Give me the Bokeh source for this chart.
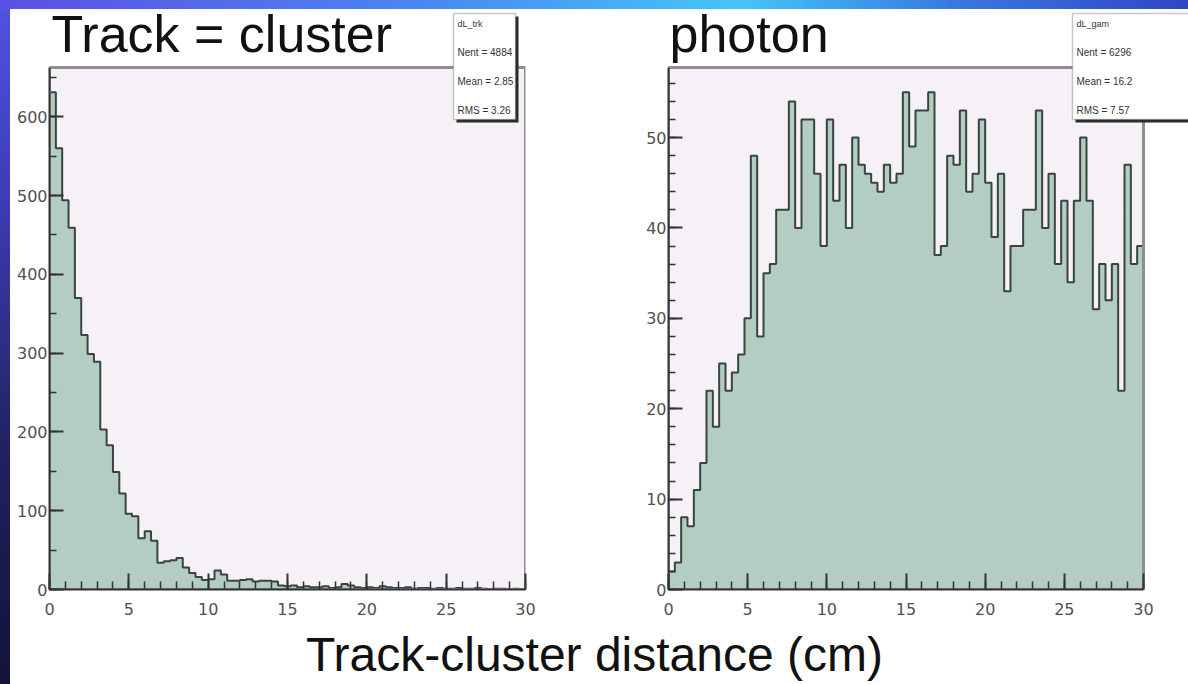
import numpy as np
from bokeh.plotting import figure
from bokeh.layouts import column, row
from bokeh.models import Label, BoxAnnotation, SingleIntervalTicker, Range1d
from bokeh.embed import file_html
from bokeh.resources import INLINE

# ---------------- data ----------------
x_min, x_max, n_bins = 0.0, 30.0, 75

track_counts = [631, 560, 494, 459, 370, 323, 299, 289, 203, 183,
                149, 122, 96, 93, 65, 74, 62, 34, 36, 37,
                40, 28, 21, 16, 12, 13, 24, 19, 11, 11,
                12, 13, 10, 11, 11, 10, 5, 4, 5, 3,
                4, 3, 3, 4, 2, 3, 7, 5, 3, 2,
                3, 2, 4, 3, 2, 2, 3, 1, 2, 2,
                1, 2, 1, 1, 2, 1, 1, 2, 1, 0,
                1, 1, 0, 1, 0]

photon_counts = [2, 3, 8, 7, 11, 14, 22, 18, 25, 22,
                 24, 26, 30, 48, 28, 35, 36, 42, 42, 54,
                 40, 52, 52, 46, 38, 52, 43, 47, 40, 50,
                 47, 46, 45, 44, 47, 45, 46, 55, 49, 53,
                 53, 55, 37, 38, 48, 47, 53, 44, 46, 52,
                 45, 39, 46, 33, 38, 38, 42, 42, 53, 40,
                 46, 36, 43, 34, 43, 50, 43, 31, 36, 32,
                 36, 22, 47, 36, 38]

track_title = "Track = cluster"
photon_title = "photon"
x_label = "Track-cluster distance (cm)"
track_stats = ["dL_trk", "Nent = 4884", "Mean = 2.85", "RMS = 3.26"]
photon_stats = ["dL_gam", "Nent = 6296", "Mean = 16.2", "RMS = 7.57"]

edges = np.linspace(x_min, x_max, n_bins + 1)

FILL = "#b4cdc3"
EDGE = "#38443f"
FRAME_BG = "#f6f1f6"
FRAME_LINE = "#8e8e8e"
TICK_FONT = "DejaVu Sans"
TITLE_FONT = "Liberation Sans"

ROW_H = 622          # canvas height of the histogram row
BOTTOM = 33          # border below the frame (tick labels)
FRAME_H = ROW_H - BOTTOM
TOP_PAD = 67         # empty room above the visible frame (titles, stats)


def make_hist(counts, y_interval, y_minor, width, b_left, b_right,
              vis_w, title, title_x, stats, box_w):
    ymax_vis = 1.05 * max(counts)
    frame_w = width - b_left - b_right
    p = figure(width=width, height=ROW_H, output_backend="svg",
               toolbar_location=None,
               x_range=Range1d(x_min, x_max * frame_w / vis_w),
               y_range=Range1d(0, ymax_vis * FRAME_H / (FRAME_H - TOP_PAD)),
               min_border_left=b_left, min_border_right=b_right,
               min_border_top=0, min_border_bottom=BOTTOM)
    p.border_fill_color = None
    p.background_fill_color = None
    p.outline_line_color = None
    p.xgrid.visible = False
    p.ygrid.visible = False

    # visible histogram frame
    p.quad(left=x_min, right=x_max, bottom=0, top=ymax_vis,
           fill_color=FRAME_BG, line_color=None)
    p.varea_step(x=edges, y1=np.zeros(len(edges)),
                 y2=list(counts) + [counts[-1]], step_mode="after",
                 fill_color=FILL)
    p.step(x=edges, y=list(counts) + [counts[-1]], mode="after",
           line_color=EDGE, line_width=2)
    p.quad(left=x_min, right=x_max, bottom=0, top=ymax_vis,
           fill_color=None, line_color=FRAME_LINE, line_width=3)

    p.xaxis.ticker = SingleIntervalTicker(interval=5, num_minor_ticks=5)
    p.yaxis.ticker = SingleIntervalTicker(interval=y_interval,
                                          num_minor_ticks=y_minor)
    p.xaxis.bounds = (x_min, x_max)
    p.yaxis.bounds = (0, ymax_vis)
    for ax in (p.xaxis, p.yaxis):
        ax.axis_line_color = "#333333"
        ax.axis_line_width = 2
        ax.major_tick_line_color = "#333333"
        ax.minor_tick_line_color = "#333333"
        ax.major_tick_line_width = 2
        ax.minor_tick_line_width = 1.5
        ax.major_tick_out = 0
        ax.minor_tick_out = 0
        ax.major_label_text_font = TICK_FONT
        ax.major_label_text_font_size = "16px"
        ax.major_label_text_color = "#505050"
    p.xaxis.major_tick_in = 16
    p.xaxis.minor_tick_in = 8
    p.xaxis.major_label_standoff = 13
    p.yaxis.major_tick_in = 14
    p.yaxis.minor_tick_in = 7
    p.yaxis.major_label_standoff = 2

    # title (screen units: from frame left / frame bottom)
    p.add_layout(Label(x=title_x, y=556, x_units="screen", y_units="screen",
                       text=title, text_font=TITLE_FONT,
                       text_font_size="52px", text_color="#111111",
                       text_baseline="alphabetic"))
    # stats box with shadow
    p.add_layout(BoxAnnotation(left=407, right=407 + box_w, top=573,
                               bottom=467, left_units="screen",
                               right_units="screen", top_units="screen",
                               bottom_units="screen", fill_color="#2a2a2a",
                               fill_alpha=1, line_color=None))
    p.add_layout(BoxAnnotation(left=404, right=404 + box_w, top=576,
                               bottom=470, left_units="screen",
                               right_units="screen", top_units="screen",
                               bottom_units="screen", fill_color="white",
                               fill_alpha=1, line_color="#444444",
                               line_width=1.5))
    for i, s in enumerate(stats):
        p.add_layout(Label(x=408, y=566 - 29 * i, x_units="screen",
                           y_units="screen", text=s, text_font=TITLE_FONT,
                           text_font_size="10px" if i else "9px",
                           text_color="#333333",
                           text_baseline="alphabetic"))
    return p


# the page margin is removed (see style below): canvases start at (0, 0)
p1 = make_hist(track_counts, 100, 2, 598, 49, 73, 476, track_title, 2,
               track_stats, 62)
p2 = make_hist(photon_counts, 10, 5, 590, 70, 0, 475, photon_title, 1,
               photon_stats, 118)

p3 = figure(width=1188, height=684 - ROW_H, output_backend="svg",
            toolbar_location=None, x_axis_type=None, y_axis_type=None,
            x_range=Range1d(0, 1), y_range=Range1d(0, 1), min_border=0)
p3.border_fill_color = None
p3.background_fill_color = None
p3.outline_line_color = None
p3.xgrid.visible = False
p3.ygrid.visible = False
p3.add_layout(Label(x=594, y=30, x_units="screen", y_units="screen",
                    text=x_label, text_font=TITLE_FONT,
                    text_font_size="48px", text_color="#111111",
                    text_align="center", text_baseline="alphabetic"))

layout = column(row(p1, p2), p3)

style = ("<style>body{margin:0;overflow:hidden;background:"
         "linear-gradient(to right,#5d4fe4 0%,#4a86f0 35%,#44c6f8 62%,"
         "#3a7ae0 80%,#3046c4 100%) 0 0/100% 9px no-repeat,"
         "linear-gradient(to bottom,#5252e2 0%,#3c3cb4 30%,#222262 65%,"
         "#12123a 100%) 0 0/10px 100% no-repeat,#ffffff;}</style>")
html = file_html(layout, INLINE, title="Track-cluster distance")
html = html.replace("</head>", style + "</head>", 1)
open("out.html", "w").write(html)
